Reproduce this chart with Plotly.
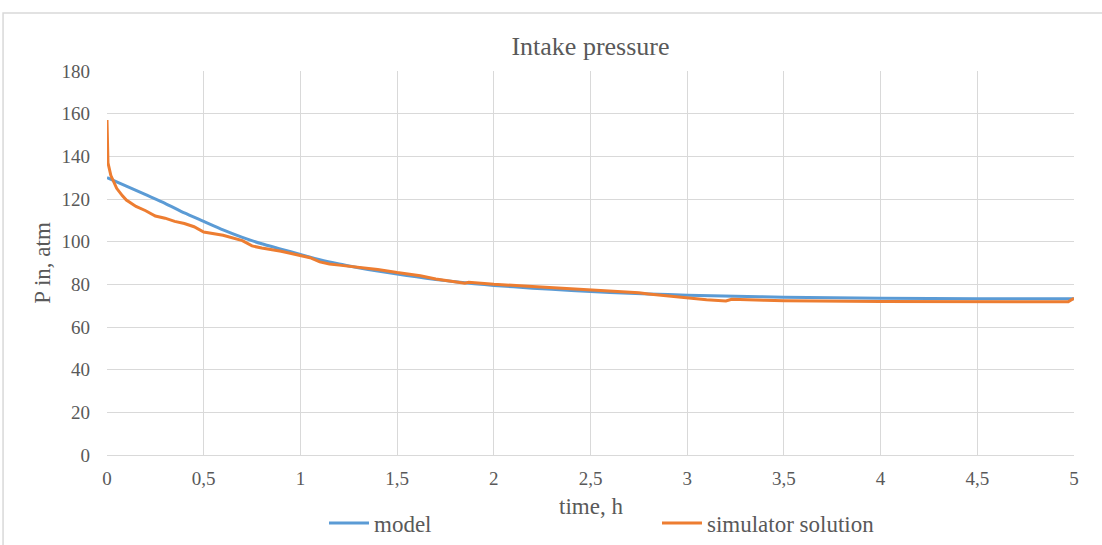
import plotly.graph_objects as go

model_t = [0, 0.1, 0.2, 0.3, 0.4, 0.5, 0.6, 0.7, 0.8, 0.9, 1.0, 1.1, 1.2, 1.3, 1.4, 1.5,
           1.6, 1.7, 1.8, 1.9, 2.0, 2.2, 2.4, 2.6, 2.8, 3.0, 3.25, 3.5, 3.75, 4.0, 4.5, 5.0]
model_p = [130, 126, 122, 118, 113.5, 109.5, 105.5, 102, 99, 96.5, 94, 91.5, 89.5, 87.8, 86.2, 84.8,
           83.5, 82.3, 81.2, 80.3, 79.5, 78.2, 77.1, 76.2, 75.5, 74.9, 74.4, 74.0, 73.7, 73.5, 73.3, 73.2]

sim_t = [0, 0.005, 0.02, 0.05, 0.08, 0.1, 0.15, 0.2, 0.25, 0.3, 0.35, 0.4, 0.45, 0.5, 0.6, 0.7,
         0.75, 0.8, 0.9, 1.0, 1.05, 1.1, 1.15, 1.2, 1.3, 1.4, 1.5, 1.6, 1.62, 1.7, 1.8, 1.85, 1.87,
         1.95, 2.0, 2.2, 2.5, 2.75, 2.8, 3.0, 3.1, 3.2, 3.23, 3.4, 3.5, 4.0, 4.5, 4.97, 5.0]
sim_p = [157, 137, 131, 125, 121.5, 119.5, 116.5, 114.5, 112, 111, 109.5, 108.5, 107, 104.5, 103, 100.5,
         98, 97, 95.5, 93.5, 92.5, 90.5, 89.5, 89, 88, 87, 85.5, 84.5, 84, 82.5, 81, 80.5, 81,
         80.3, 80, 79, 77.5, 76, 75.5, 73.5, 72.8, 72.2, 73, 72.5, 72.3, 72, 71.8, 71.8, 73.5]

x_ticks = [0, 0.5, 1, 1.5, 2, 2.5, 3, 3.5, 4, 4.5, 5]
x_labels = ["0", "0,5", "1", "1,5", "2", "2,5", "3", "3,5", "4", "4,5", "5"]

font_family = "Liberation Serif"
text_col = "#595959"

fig = go.Figure()
fig.add_trace(go.Scatter(x=model_t, y=model_p, mode="lines", name="model",
                         line=dict(color="#5B9BD5", width=3, shape="spline", smoothing=0.6)))
fig.add_trace(go.Scatter(x=sim_t, y=sim_p, mode="lines", name="simulator solution",
                         line=dict(color="#ED7D31", width=3)))

fig.update_layout(
    width=1102, height=545,
    margin=dict(l=107, r=28, t=71, b=90, autoexpand=False),
    paper_bgcolor="white", plot_bgcolor="white",
    font=dict(family=font_family, color=text_col, size=19),
    title=dict(text="Intake pressure", x=0.5, xref="paper", xanchor="center",
               y=1 - 46 / 545, yanchor="middle", font=dict(size=26, color=text_col)),
    xaxis=dict(range=[0, 5], tickvals=x_ticks, ticktext=x_labels, showgrid=True,
               gridcolor="#d9d9d9", gridwidth=1.3, zeroline=False, showline=True,
               linecolor="#d9d9d9", ticks="", tickfont=dict(size=19), ticklabelstandoff=6,
               automargin=False),
    yaxis=dict(range=[0, 180], dtick=20, showgrid=True, gridcolor="#d9d9d9", gridwidth=1.3,
               zeroline=False, showline=False, ticks="", tickfont=dict(size=19), ticklabelstandoff=16,
               automargin=False,
               title=dict(text="P in, atm", font=dict(size=23), standoff=4)),
    legend=dict(orientation="h", x=0.2244, xanchor="left", yref="container",
                y=1 - 523 / 545, yanchor="middle",
                font=dict(size=23), entrywidth=278, entrywidthmode="pixels", itemwidth=40,
                bgcolor="rgba(0,0,0,0)"),
    annotations=[dict(text="time, h", xref="paper", yref="paper", x=0.5, y=-(506 - 455) / 384,
                      xanchor="center", yanchor="middle", showarrow=False,
                      font=dict(size=23, color=text_col))],
    shapes=[dict(type="rect", xref="paper", yref="paper", x0=-0.1075, x1=1.2, y0=-0.4, y1=1.151,
                 line=dict(color="#d9d9d9", width=1.5), fillcolor="rgba(0,0,0,0)", layer="below")],
)

fig.write_html("out.html", config={"displayModeBar": False},
               post_script="document.body.style.margin='0';document.body.style.padding='0';")
